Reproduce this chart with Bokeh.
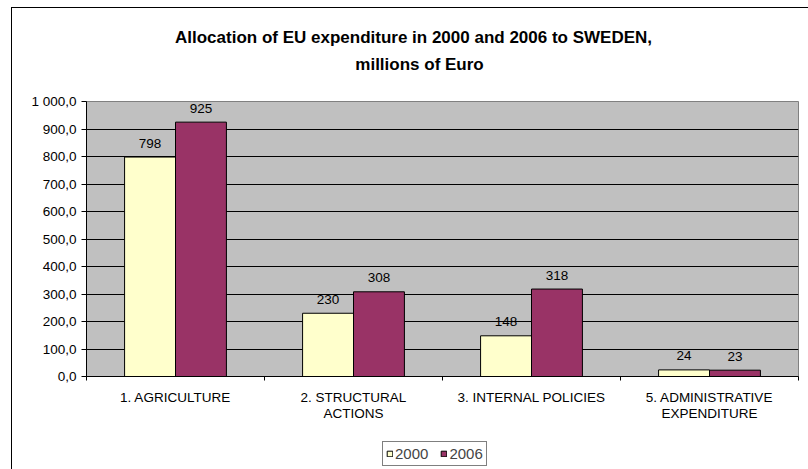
import numpy as np
from bokeh.plotting import figure
from bokeh.layouts import column
from bokeh.models import (Range1d, LinearAxis, FixedTicker, ColumnDataSource, LabelSet,
                          Legend, LegendItem, Title)
from bokeh.core.properties import value
from bokeh.embed import file_html
from bokeh.resources import INLINE

# ---- data ----
categories = ["1. AGRICULTURE", "2. STRUCTURAL\nACTIONS", "3. INTERNAL POLICIES",
              "5. ADMINISTRATIVE\nEXPENDITURE"]
values_2000 = [798, 230, 148, 24]
values_2006 = [925, 308, 318, 23]
series_names = ["2000", "2006"]
y_ticks = [0, 100, 200, 300, 400, 500, 600, 700, 800, 900, 1000]
y_tick_labels = ["0,0", "100,0", "200,0", "300,0", "400,0", "500,0", "600,0",
                 "700,0", "800,0", "900,0", "1 000,0"]
title_lines = ["Allocation of EU expenditure in 2000 and 2006 to SWEDEN,",
               "millions of Euro"]

FONT = "Liberation Sans"
FS = "13.5px"
TFS = "17px"
C2000 = "#FFFFCC"
C2006 = "#993366"
BAR_W = 0.286

n = len(categories)
idx = np.arange(n)
centers = idx + 0.5

# ---------------- main chart ----------------
p = figure(width=808, height=440, x_range=Range1d(0, n), y_range=Range1d(0, 1000),
           x_axis_location=None, output_backend="svg", toolbar_location=None,
           min_border_left=86, min_border_right=10, min_border_top=101, min_border_bottom=64)
# chart-area border (left and top edges) painted behind a transparent canvas border
p.styles = {"box-shadow": "inset 11px 7px 0 0 white, inset 12px 8px 0 0 black",
            "background-color": "white"}
p.border_fill_alpha = 0
p.background_fill_color = "#C0C0C0"
p.outline_line_color = "#808080"
p.outline_line_width = 1

p.xgrid.grid_line_color = None
p.ygrid.grid_line_color = "black"
p.ygrid.grid_line_width = 1

yax = p.yaxis[0]
yax.ticker = FixedTicker(ticks=y_ticks)
yax.major_label_overrides = dict(zip(y_ticks, y_tick_labels))
yax.axis_line_color = "black"
yax.major_tick_line_color = "black"
yax.major_tick_in = 0
yax.major_tick_out = 5
yax.minor_tick_line_color = None
yax.major_label_standoff = 5
yax.major_label_text_font = FONT
yax.major_label_text_font_size = FS
yax.major_label_text_color = "black"

# boundary ticks axis (category separators)
bounds = list(range(n + 1))
bound_axis = LinearAxis(ticker=FixedTicker(ticks=bounds),
                        major_label_text_font_size="0px", major_label_standoff=0,
                        major_tick_in=0, major_tick_out=4, minor_tick_line_color=None,
                        axis_line_color="black", major_tick_line_color="black")
p.add_layout(bound_axis, "below")

# category labels axis
cat_axis = LinearAxis(ticker=FixedTicker(ticks=list(centers)),
                      major_label_overrides={float(c): lab for c, lab in zip(centers, categories)},
                      axis_line_color=None, major_tick_line_color=None, minor_tick_line_color=None,
                      major_tick_in=0, major_tick_out=0, major_label_standoff=9,
                      major_label_text_font=FONT, major_label_text_font_size=FS,
                      major_label_text_line_height=1.07, major_label_text_color="black")
p.add_layout(cat_axis, "below")

src = ColumnDataSource(dict(x2000=centers - BAR_W / 2, x2006=centers + BAR_W / 2,
                            v2000=values_2000, v2006=values_2006,
                            l2000=[str(v) for v in values_2000],
                            l2006=[str(v) for v in values_2006]))

bar_styles = [dict(fill_color=C2000, line_color="black", line_width=1),
              dict(fill_color=C2006, line_color="black", line_width=1)]

p.vbar(x="x2000", top="v2000", width=BAR_W, source=src, **bar_styles[0])
p.vbar(x="x2006", top="v2006", width=BAR_W, source=src, **bar_styles[1])

for xf, fld, lab in [("x2000", "v2000", "l2000"), ("x2006", "v2006", "l2006")]:
    p.add_layout(LabelSet(x=xf, y=fld, text=lab, source=src,
                          text_align="center", text_baseline="middle", y_offset=14,
                          text_font=value(FONT), text_font_size=value(FS),
                          text_color="black"))

# title: spacer (nearest the frame), second line, first line
p.add_layout(Title(text=" ", text_font=FONT, text_font_size=TFS, standoff=2.75), "above")
p.add_layout(Title(text=title_lines[1], align="left", offset=268.8, standoff=8,
                   text_font=FONT, text_font_style="bold", text_font_size=TFS,
                   text_color="black"), "above")
p.add_layout(Title(text=title_lines[0], align="left", offset=88.5, standoff=4,
                   text_font=FONT, text_font_style="bold", text_font_size=TFS,
                   text_color="black"), "above")

# ---------------- legend strip ----------------
lg = figure(width=808, height=29, x_range=Range1d(0, 1), y_range=Range1d(0, 1),
            x_axis_location=None, y_axis_location=None, output_backend="svg",
            toolbar_location=None, min_border=0, min_border_left=0, min_border_right=0,
            min_border_top=0, min_border_bottom=0)
lg.styles = {"box-shadow": "inset 11px 0 0 0 white, inset 12px 0 0 0 black",
             "background-color": "white"}
lg.border_fill_alpha = 0
lg.background_fill_alpha = 0
lg.outline_line_color = None
lg.grid.visible = False
# legend-only proxy renderers, kept outside the visible range of the strip
proxies = [lg.vbar(x=[-5], top=[-5], bottom=[-6], width=0.1, **st) for st in bar_styles]

legend = Legend(items=[LegendItem(label=name, renderers=[r])
                       for name, r in zip(series_names, proxies)],
                orientation="horizontal", location=(296, 3), margin=0, padding=3,
                spacing=12, glyph_width=7, glyph_height=7, label_standoff=2, label_height=13,
                label_text_font=FONT, label_text_font_size="15px",
                border_line_color="black", border_line_width=1,
                background_fill_color="white", background_fill_alpha=1)
lg.add_layout(legend, "center")

layout = column(p, lg, spacing=0)
open("out.html", "w").write(file_html(layout, INLINE))
